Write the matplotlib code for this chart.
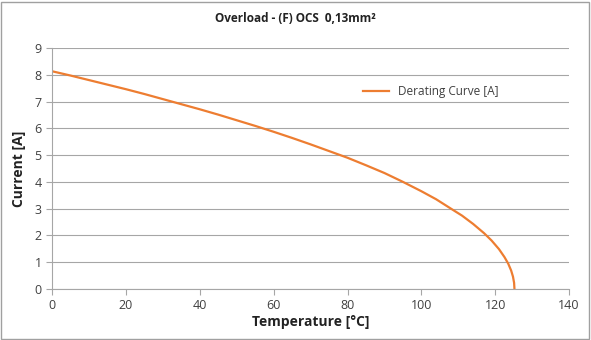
import matplotlib
matplotlib.use("Agg")
import matplotlib.pyplot as plt
from matplotlib.patches import Rectangle

plt.rcParams['font.family'] = ['Open Sans', 'DejaVu Sans']

# derating curve
temp = [0, 5, 10, 15, 20, 25, 30, 35, 40, 45, 50, 55, 60, 65, 70, 75, 80, 85, 90,
        95, 100, 104, 108, 111, 114, 117, 119, 121, 122.5, 123.5, 124.3, 124.8, 125.1, 125.2]
current = [8.13, 7.97, 7.80, 7.63, 7.46, 7.28, 7.09, 6.90, 6.71, 6.51, 6.30, 6.09, 5.87,
           5.64, 5.40, 5.15, 4.90, 4.62, 4.33, 4.00, 3.65, 3.35, 3.00, 2.74, 2.43, 2.08,
           1.81, 1.49, 1.19, 0.95, 0.69, 0.46, 0.23, 0.0]

xticks = [0, 20, 40, 60, 80, 100, 120, 140]
yticks = list(range(10))

orange = '#ED7D31'
grid_c = '#A6A6A6'

fig = plt.figure(figsize=(5.91, 3.40), dpi=100)
ax = fig.add_axes([0.088, 0.15, 0.875, 0.709])

ax.plot(temp, current, color=orange, lw=1.6, label='Derating Curve [A]')

ax.set_xlim(0, 140)
ax.set_ylim(0, 9)
ax.set_xticks(xticks)
ax.set_yticks(yticks)
ax.grid(axis='y', color=grid_c, lw=0.8)
ax.set_axisbelow(True)
for s in ['top', 'right']:
    ax.spines[s].set_visible(False)
for s in ['left', 'bottom']:
    ax.spines[s].set_color(grid_c)
    ax.spines[s].set_linewidth(0.8)
ax.tick_params(colors=grid_c, labelcolor='#404040', labelsize=9, length=4, width=0.8)

ax.set_xlabel('Temperature [°C]', fontsize=10, fontweight='bold', color='#222222', labelpad=2)
ax.set_ylabel('Current [A]', fontsize=10, fontweight='bold', color='#222222', labelpad=6)
fig.text(0.5, 0.945, 'Overload - (F) OCS  0,13mm²', ha='center', va='center',
         fontsize=8.5, fontweight='bold', color='#222222')

ax.legend(loc='upper left', bbox_to_anchor=(0.58, 0.89), frameon=False,
          fontsize=8.5, handlelength=2.2, labelcolor='#404040')

fig.add_artist(Rectangle((0.002, 0.003), 0.995, 0.992, transform=fig.transFigure,
                         fill=False, ec='#A0A0A0', lw=1))

fig.savefig('out.png', dpi=100)
